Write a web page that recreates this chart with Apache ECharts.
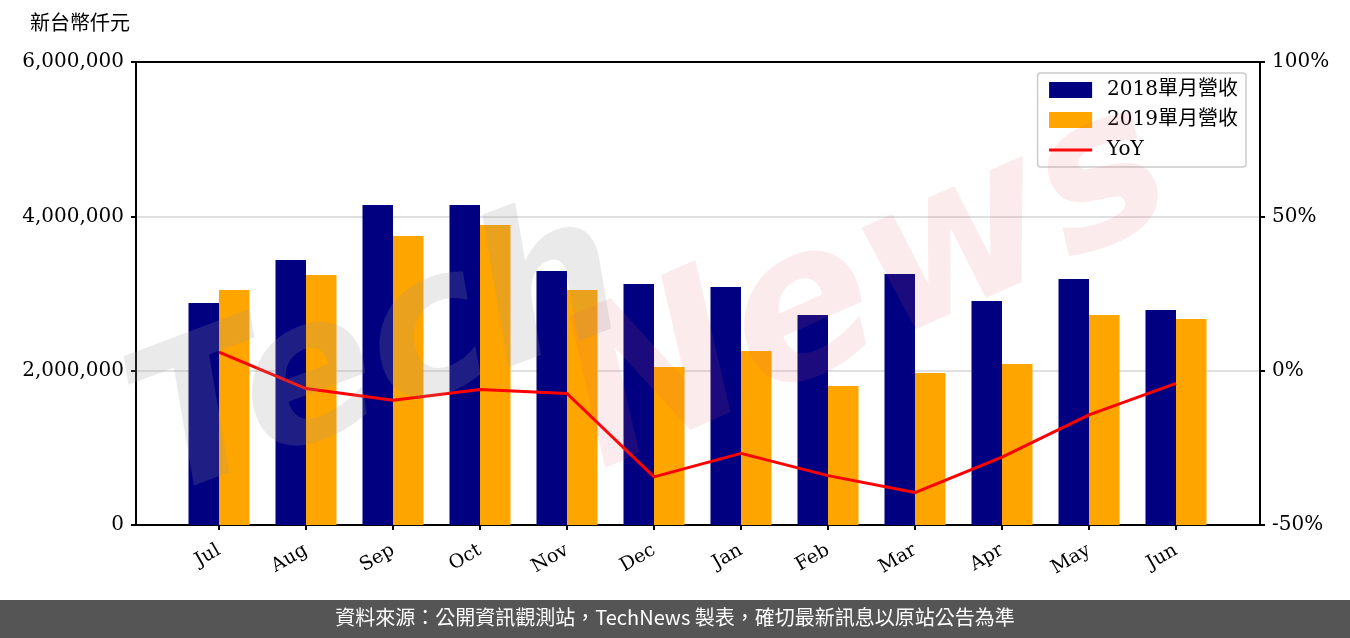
<!DOCTYPE html>
<html>
<head>
<meta charset="utf-8">
<script src="https://cdn.jsdelivr.net/npm/echarts@6/dist/echarts.min.js"></script>
<style>
  html, body { margin: 0; padding: 0; background: #fff; }
  #chart { width: 1350px; height: 638px; }
</style>
</head>
<body>
<div id="chart"></div>
<script>
// 月份
const months = ["Jul", "Aug", "Sep", "Oct", "Nov", "Dec", "Jan", "Feb", "Mar", "Apr", "May", "Jun"];
// 單月營收 (新台幣仟元)
const rev2018 = [2877000, 3434000, 4147000, 4147000, 3291000, 3123000, 3084000, 2721000, 3253000, 2903000, 3188000, 2786000];
const rev2019 = [3045000, 3240000, 3745000, 3888000, 3045000, 2047000, 2255000, 1801000, 1970000, 2086000, 2721000, 2669000];
// YoY (%)
const yoy = [6.0, -5.8, -9.6, -6.1, -7.4, -34.4, -26.8, -34.0, -39.5, -28.0, -14.3, -4.1];

const serif = "DejaVu Serif, 'Noto Sans CJK TC', serif";
const chart = echarts.init(document.getElementById("chart"));

const frameLine = { show: true, onZero: false, lineStyle: { color: "#000", width: 2 } };
const tickStyle = { show: true, length: 5, lineStyle: { color: "#000", width: 2 } };

const option = {
  animation: false,
  textStyle: { fontFamily: serif, color: "#000" },
  grid: [
    // 外框 + 左右軸
    { left: 136, top: 62, width: 1124, height: 463 },
    // 柱狀圖
    { left: 175.5, top: 62, width: 1044, height: 463 }
  ],
  graphic: [
    {
      type: "text", left: 30, top: 15, silent: true,
      style: { text: "新台幣仟元", font: "20px " + serif, fill: "#000" }
    },
    {
      type: "text", x: 380, y: 360, rotation: 0.36, silent: true, z: 100,
      style: { text: "Tech", font: "italic bold 200px 'DejaVu Sans'", fill: "rgba(150,150,150,0.2)", align: "center", verticalAlign: "middle" }
    },
    {
      type: "text", x: 870, y: 290, rotation: 0.42, silent: true, z: 100,
      style: { text: "News", font: "italic bold 210px 'DejaVu Sans'", fill: "rgba(220,90,100,0.12)", align: "center", verticalAlign: "middle" }
    },
    {
      type: "rect", left: 0, top: 600, silent: true,
      shape: { width: 1350, height: 38 },
      style: { fill: "#555555" }
    },
    {
      type: "text", left: "center", top: 607, silent: true,
      style: { text: "資料來源：公開資訊觀測站，TechNews 製表，確切最新訊息以原站公告為準", font: "20px 'Noto Sans CJK TC'", fill: "#fff" }
    }
  ],
  legend: {
    orient: "vertical",
    right: 104,
    top: 73,
    padding: [7, 8, 7, 10],
    itemWidth: 43,
    itemHeight: 16,
    itemGap: 10,
    borderColor: "#cccccc",
    borderWidth: 1.5,
    borderRadius: 3,
    backgroundColor: "rgba(255,255,255,0.8)",
    textStyle: { fontFamily: serif, fontSize: 20, color: "#000", padding: [0, 0, 0, 10] },
    data: [
      { name: "2018單月營收", icon: "rect" },
      { name: "2019單月營收", icon: "rect" },
      { name: "YoY", itemStyle: { opacity: 0 }, lineStyle: { width: 3, color: "#ff0000" } }
    ]
  },
  xAxis: [
    { type: "value", gridIndex: 0, position: "bottom", min: 0, max: 1, axisLine: frameLine, axisTick: { show: false }, axisLabel: { show: false }, splitLine: { show: false } },
    {
      type: "category",
      gridIndex: 1,
      data: months,
      axisLine: { show: false },
      axisTick: Object.assign({ alignWithLabel: true }, tickStyle),
      axisLabel: { rotate: 30, fontSize: 19, margin: 24, color: "#000", fontFamily: serif },
      splitLine: { show: false }
    },
    { type: "value", gridIndex: 0, position: "top", min: 0, max: 1, axisLine: frameLine, axisTick: { show: false }, axisLabel: { show: false }, splitLine: { show: false } }
  ],
  yAxis: [
    {
      type: "value", gridIndex: 0, position: "left",
      min: 0, max: 6000000, interval: 2000000,
      axisLine: frameLine,
      axisTick: tickStyle,
      axisLabel: {
        fontSize: 20, margin: 12, color: "#000", fontFamily: serif,
        formatter: v => v.toLocaleString("en-US")
      },
      splitLine: { show: true, showMinLine: false, showMaxLine: false, lineStyle: { color: "#d6d6d6", width: 1.5 } }
    },
    {
      type: "value", gridIndex: 0, position: "right",
      min: -50, max: 100, interval: 50,
      axisLine: frameLine,
      axisTick: tickStyle,
      axisLabel: { fontSize: 20, margin: 12, color: "#000", fontFamily: serif, formatter: "{value}%" },
      splitLine: { show: false }
    },
    { type: "value", gridIndex: 1, show: false, min: 0, max: 6000000 },
    { type: "value", gridIndex: 1, show: false, min: -50, max: 100 }
  ],
  series: [
    {
      name: "2018單月營收", type: "bar", xAxisIndex: 1, yAxisIndex: 2,
      data: rev2018, barWidth: 30.5, barGap: "0%",
      itemStyle: { color: "#000080" }, z: 2
    },
    {
      name: "2019單月營收", type: "bar", xAxisIndex: 1, yAxisIndex: 2,
      data: rev2019, barWidth: 30.5, barGap: "0%",
      itemStyle: { color: "#ffa500" }, z: 2
    },
    {
      name: "YoY", type: "line", xAxisIndex: 1, yAxisIndex: 3,
      data: yoy, symbol: "none", z: 5,
      lineStyle: { color: "#ff0000", width: 3 },
      itemStyle: { color: "#ff0000" }
    }
  ]
};

chart.setOption(option);
</script>
</body>
</html>
